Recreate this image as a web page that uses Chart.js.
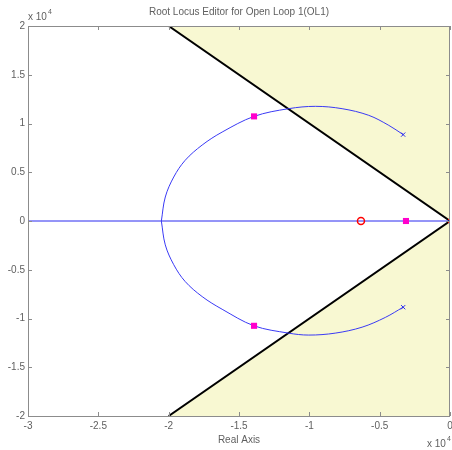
<!DOCTYPE html>
<html><head><meta charset="utf-8">
<script src="https://cdn.jsdelivr.net/npm/chart.js@4"></script>
<style>html,body{margin:0;padding:0;background:#fff}#wrap{width:452px;height:450px;position:relative}</style>
</head><body><div id="wrap"><canvas id="c" width="452" height="450"></canvas></div>
<script>
const titleText = 'Root Locus Editor for Open Loop 1(OL1)';
const xAxisTitle = 'Real Axis';
const xTicks = [-3, -2.5, -2, -1.5, -1, -0.5, 0];
const yTicks = [-2, -1.5, -1, -0.5, 0, 0.5, 1, 1.5, 2];
const exponentLabel = 'x 10';
const exponentPower = '4';

const shadeX = [-2, 0, 0, -2, 0];
const shadeY = [2, 2, -2, -2, 0];
const boundX = [-2, 0, -2];
const boundY = [2, 0, -2];
const realLocusX = [-3, 0];
const realLocusY = [0, 0];
const upperLocusX = [-0.333, -0.435, -0.578, -0.767, -0.957, -1.147, -1.393, -1.620, -1.762, -1.883, -1.964, -2.024, -2.052];
const upperLocusY = [0.886, 0.981, 1.084, 1.152, 1.176, 1.152, 1.073, 0.912, 0.779, 0.622, 0.451, 0.246, 0];
const lowerLocusX = [-0.333, -0.460, -0.625, -0.816, -1.004, -1.147, -1.393, -1.620, -1.762, -1.883, -1.964, -2.024, -2.052];
const lowerLocusY = [-0.884, -0.989, -1.089, -1.150, -1.170, -1.150, -1.075, -0.905, -0.775, -0.620, -0.448, -0.245, 0];
const openPoleX = [-0.333, -0.333];
const openPoleY = [0.886, -0.884];
const originPoleX = [0];
const originPoleY = [0];
const zeroX = [-0.633];
const zeroY = [0];
const clPoleX = [-1.393, -1.393, -0.313];
const clPoleY = [1.073, -1.075, 0];

const pts = (xs, ys) => xs.map((x, i) => ({x: x, y: ys[i]}));
const FONT = 'Liberation Sans, Arial, sans-serif';
const TXT = '#5f5f5f';
const FRAME = '#8c8c8c';

const framePlugin = {
  id: 'frame',
  afterDatasetsDraw(chart) {
    const {ctx, chartArea: a, scales: {x, y}} = chart;
    ctx.save();
    ctx.strokeStyle = FRAME;
    ctx.lineWidth = 1;
    ctx.beginPath();
    xTicks.forEach(v => {
      const px = Math.round(x.getPixelForValue(v)) + 0.5;
      ctx.moveTo(px, a.bottom); ctx.lineTo(px, a.bottom - 4);
      ctx.moveTo(px, a.top); ctx.lineTo(px, a.top + 4);
    });
    yTicks.forEach(v => {
      const py = Math.round(y.getPixelForValue(v)) + 0.5;
      ctx.moveTo(a.left, py); ctx.lineTo(a.left + 4, py);
      ctx.moveTo(a.right, py); ctx.lineTo(a.right - 4, py);
    });
    ctx.stroke();
    ctx.strokeRect(Math.round(a.left) + 0.5, Math.round(a.top) + 0.5, Math.round(a.right - a.left) - 1, Math.round(a.bottom - a.top));
    ctx.restore();
  },
  afterDraw(chart) {
    const {ctx, chartArea: a} = chart;
    ctx.save();
    ctx.fillStyle = TXT;
    ctx.textBaseline = 'alphabetic';
    ctx.textAlign = 'left';
    ctx.font = '10px ' + FONT;
    ctx.fillText(exponentLabel, a.left, 20);
    let w = ctx.measureText(exponentLabel).width;
    ctx.font = '7px ' + FONT;
    ctx.fillText(exponentPower, a.left + w + 1, 14);
    ctx.font = '10px ' + FONT;
    const bx = a.right - 23;
    ctx.fillText(exponentLabel, bx, 447);
    w = ctx.measureText(exponentLabel).width;
    ctx.font = '7px ' + FONT;
    ctx.fillText(exponentPower, bx + w + 1, 441);
    ctx.restore();
  }
};

const noPad = s => { s.paddingLeft = 0; s.paddingRight = 0; s.paddingTop = 0; s.paddingBottom = 0; };

new Chart(document.getElementById('c'), {
  type: 'scatter',
  data: {
    datasets: [
      {data: pts(shadeX, shadeY), showLine: true, fill: 'shape', backgroundColor: '#f8f8d2', borderWidth: 0, borderColor: 'rgba(0,0,0,0)', pointRadius: 0, tension: 0, order: 20},
      {data: pts(boundX, boundY), showLine: true, fill: false, borderColor: '#000', borderWidth: 2, pointRadius: 0, tension: 0, order: 15},
      {data: pts(realLocusX, realLocusY), showLine: true, fill: false, borderColor: '#2a2af0', borderWidth: 1, pointRadius: 0, order: 12},
      {data: pts(upperLocusX, upperLocusY), showLine: true, fill: false, borderColor: '#3a3af5', borderWidth: 1, pointRadius: 0, tension: 0.35, order: 10},
      {data: pts(lowerLocusX, lowerLocusY), showLine: true, fill: false, borderColor: '#3a3af5', borderWidth: 1, pointRadius: 0, tension: 0.35, order: 10},
      {data: pts(openPoleX, openPoleY), showLine: false, pointStyle: 'crossRot', pointRadius: 3, borderColor: '#2a2af0', borderWidth: 1, order: 3},
      {data: pts(originPoleX, originPoleY), showLine: false, pointStyle: 'crossRot', pointRadius: 3, borderColor: '#f00', borderWidth: 1, order: 3},
      {data: pts(zeroX, zeroY), showLine: false, pointStyle: 'circle', pointRadius: 3.5, borderColor: '#f00', backgroundColor: 'rgba(0,0,0,0)', borderWidth: 1.5, order: 2},
      {data: pts(clPoleX, clPoleY), showLine: false, pointStyle: 'rect', pointRadius: 4.3, borderColor: '#ff00cc', backgroundColor: '#ff00cc', borderWidth: 0, order: 1}
    ]
  },
  options: {
    responsive: false,
    animation: false,
    devicePixelRatio: 1,
    layout: {autoPadding: false, padding: {top: 0, right: 2, bottom: 0, left: 0}},
    plugins: {
      legend: {display: false},
      tooltip: {enabled: false},
      title: {display: true, fullSize: false, text: titleText, color: TXT, font: {family: FONT, size: 10, weight: 'normal'}, padding: {top: 6, bottom: 8}}
    },
    elements: {point: {hoverRadius: 0}},
    scales: {
      x: {
        type: 'linear', min: -3, max: 0,
        afterBuildTicks: s => { s.ticks = xTicks.map(v => ({value: v})); },
        afterFit: s => { s.height = 34; noPad(s); },
        grid: {display: false, drawTicks: false},
        border: {display: false},
        ticks: {color: TXT, font: {family: FONT, size: 10}, padding: 4, maxRotation: 0, autoSkip: false, callback: v => String(v)},
        title: {display: true, text: xAxisTitle, color: TXT, font: {family: FONT, size: 10}, padding: {top: 0, bottom: 4}}
      },
      y: {
        type: 'linear', min: -2, max: 2,
        afterBuildTicks: s => { s.ticks = yTicks.map(v => ({value: v})); },
        afterFit: s => { s.width = 28; noPad(s); },
        grid: {display: false, drawTicks: false},
        border: {display: false},
        ticks: {color: TXT, font: {family: FONT, size: 10}, padding: 3, autoSkip: false, callback: v => String(v)}
      }
    }
  },
  plugins: [framePlugin]
});
</script>
</body></html>
